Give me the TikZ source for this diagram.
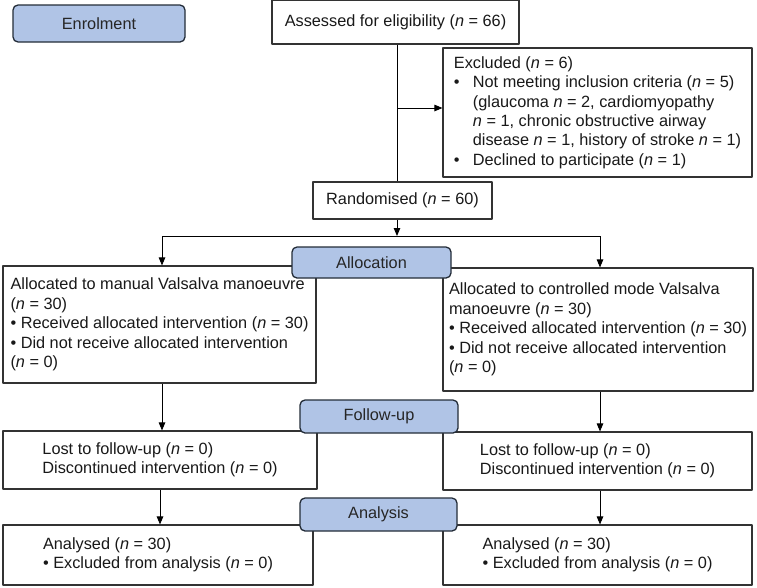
\documentclass[tikz,border=0pt]{standalone}
\usepackage{fontspec}
\setmainfont{Liberation Sans}
\usetikzlibrary{arrows.meta}
\definecolor{stageblue}{HTML}{B0C4E6}
\definecolor{stageline}{HTML}{232C38}
\definecolor{boxline}{HTML}{333333}
\newcommand{\nv}{\textit{n}}
\newcommand{\bul}{\makebox[19pt][l]{\textbullet}}
\newcommand{\ind}{\hspace*{19pt}}
\tikzset{
	flowbox/.style={draw=boxline, line width=1.1pt, fill=white, align=left, inner sep=0pt, text=black!90},
	stagebox/.style={draw=stageline, line width=1.3pt, fill=stageblue, rounded corners=5pt, inner sep=0pt, text=black!85},
}
\begin{document}
\begin{tikzpicture}[x=1pt,y=-1pt,line join=round,>={Triangle[length=8pt,width=6.5pt]},font=\fontsize{16.3}{19.4}\selectfont]
		\useasboundingbox (0,0) rectangle (757,587);
		% boxes
		\node[flowbox,minimum width=247pt,minimum height=44pt] (assess) at (395.5,22) {Assessed for eligibility (\nv{} = 66)};
		\node[flowbox,minimum width=309pt,minimum height=129pt] (excl) at (597.5,112.5) {Excluded (\nv{} = 6)\\
			\bul Not meeting inclusion criteria (\nv{} = 5)\\
			\ind (glaucoma \nv{} = 2, cardiomyopathy\\
			\ind \nv{} = 1, chronic obstructive airway\\
			\ind disease \nv{} = 1, history of stroke \nv{} = 1)\\
			\bul Declined to participate (\nv{} = 1)};
		\node[flowbox,minimum width=179pt,minimum height=37pt] (rand) at (402.5,200.5) {Randomised (\nv{} = 60)};
		\node[flowbox,minimum width=313pt,minimum height=117pt] (manual) at (159.5,324.5) {Allocated to manual Valsalva manoeuvre\\
			(\nv{} = 30)\\
			\textbullet{} Received allocated intervention (\nv{} = 30)\\
			\textbullet{} Did not receive allocated intervention\\
			(\nv{} = 0)};
		\node[flowbox,minimum width=310pt,minimum height=123pt] (controlled) at (598,329.5) {Allocated to controlled mode Valsalva\\
			manoeuvre (\nv{} = 30)\\
			\textbullet{} Received allocated intervention (\nv{} = 30)\\
			\textbullet{} Did not receive allocated intervention\\
			(\nv{} = 0)};
		\node[flowbox,minimum width=314pt,minimum height=58pt] (lostL) at (160,460) {Lost to follow-up (\nv{} = 0)\\Discontinued intervention (\nv{} = 0)};
		\node[flowbox,minimum width=309pt,minimum height=58pt] (lostR) at (597.5,461) {Lost to follow-up (\nv{} = 0)\\Discontinued intervention (\nv{} = 0)};
		\node[flowbox,minimum width=310pt,minimum height=60pt] (analL) at (158,555) {Analysed (\nv{} = 30)\\\textbullet{} Excluded from analysis (\nv{} = 0)};
		\node[flowbox,minimum width=309pt,minimum height=60pt] (analR) at (597.5,555) {Analysed (\nv{} = 30)\\\textbullet{} Excluded from analysis (\nv{} = 0)};
		% connectors
		\coordinate (exclpt) at (397,108);
		\coordinate (split) at (397,236);
		\coordinate (splitL) at (162,236);
		\coordinate (splitR) at (600,236);
		\draw[line width=0.9pt] (assess.south -| split) -- (rand.north -| split);
		\draw[->,line width=0.9pt] (exclpt) -- (excl.west |- exclpt);
		\draw[->,line width=0.9pt] (rand.south -| split) -- (split);
		\draw[line width=0.9pt] (splitL) -- (splitR);
		\draw[->,line width=0.9pt] (splitL) -- (manual.north -| splitL);
		\draw[->,line width=0.9pt] (splitR) -- (controlled.north -| splitR);
		\draw[->,line width=0.9pt] (manual.south -| splitL) -- (lostL.north -| splitL);
		\draw[->,line width=0.9pt] (controlled.south -| splitR) -- (lostR.north -| splitR);
		\draw[->,line width=0.9pt] (lostL.south) -- (analL.north -| lostL.south);
		\draw[->,line width=0.9pt] (lostR.south -| splitR) -- (analR.north -| splitR);
		% stage labels
		\node[stagebox,minimum width=172pt,minimum height=37pt] (enrol) at (99,23.5) {Enrolment};
		\node[stagebox,minimum width=159pt,minimum height=31pt] (alloc) at (371.5,262.5) {Allocation};
		\node[stagebox,minimum width=158pt,minimum height=33pt] (follow) at (379,416.5) {Follow-up};
		\node[stagebox,minimum width=157pt,minimum height=33pt] (analysis) at (378.5,514.5) {Analysis};
\end{tikzpicture}
\end{document}
